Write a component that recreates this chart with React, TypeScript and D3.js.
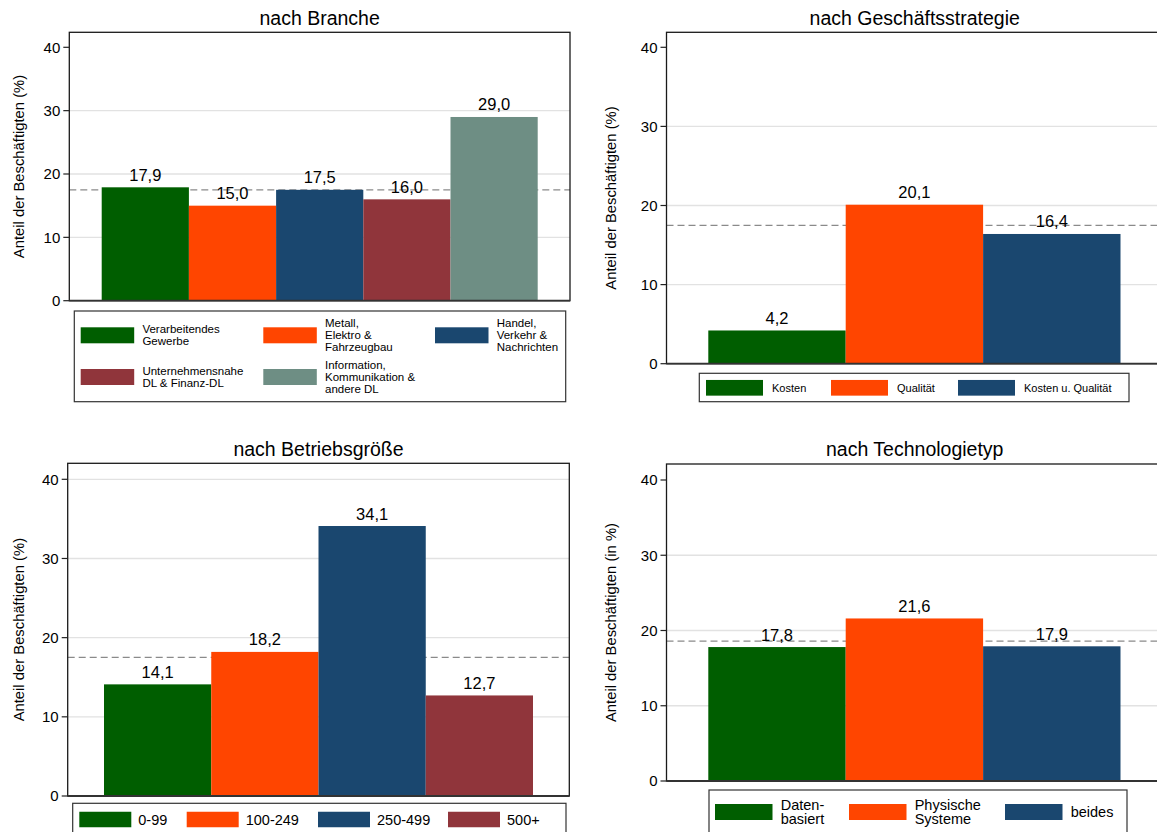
import React from "react";
import * as d3 from "d3";

// ---------- data ----------
const brancheCategories = [
  "Verarbeitendes\nGewerbe",
  "Metall,\nElektro &\nFahrzeugbau",
  "Handel,\nVerkehr &\nNachrichten",
  "Unternehmensnahe\nDL & Finanz-DL",
  "Information,\nKommunikation &\nandere DL",
];
const brancheValues = [17.9, 15.0, 17.5, 16.0, 29.0];

const strategieCategories = ["Kosten", "Qualität", "Kosten u. Qualität"];
const strategieValues = [4.2, 20.1, 16.4];

const groesseCategories = ["0-99", "100-249", "250-499", "500+"];
const groesseValues = [14.1, 18.2, 34.1, 12.7];

const techCategories = ["Daten-\nbasiert", "Physische\nSysteme", "beides"];
const techValues = [17.8, 21.6, 17.9];

const averages = [17.5, 17.5, 17.5, 18.6];
const yTicks = [0, 10, 20, 30, 40];
const titles = ["nach Branche", "nach Geschäftsstrategie", "nach Betriebsgröße", "nach Technologietyp"];
const yTitles = [
  "Anteil der Beschäftigten (%)",
  "Anteil der Beschäftigten (%)",
  "Anteil der Beschäftigten (%)",
  "Anteil der Beschäftigten (in %)",
];

const palette = ["#005e00", "#ff4500", "#1a476f", "#90353b", "#6e8e84"];
const FONT = "'Liberation Sans', Arial, Helvetica, sans-serif";

// ---------- layout ----------
type Layout = {
  x0: number; x1: number; top: number; y0px: number; y40px: number;
  bx0: number; bx1: number; yTitleX: number; grid: number[];
  legend: {
    box: [number, number, number, number];
    cols: number[]; rows: number[]; textOff: number;
    sw: number; sh: number; fs: number; lh: number;
  };
};

const layouts: Layout[] = [
  {
    x0: 69.3, x1: 570, top: 32.3, y0px: 300.7, y40px: 47.3, bx0: 101.7, bx1: 537.7, yTitleX: 24,
    grid: [10, 20, 30],
    legend: { box: [74.3, 311, 565.7, 401.7], cols: [80.7, 263.3, 435], rows: [335.3, 377], textOff: 61.7, sw: 53.5, sh: 16, fs: 11.5, lh: 12 },
  },
  {
    x0: 666.5, x1: 1163, top: 32.3, y0px: 363.7, y40px: 47.3, bx0: 708.3, bx1: 1120.5, yTitleX: 616,
    grid: [10, 20, 30],
    legend: { box: [699.3, 373.3, 1129, 401.7], cols: [706, 831, 958], rows: [387.8], textOff: 66, sw: 57, sh: 15.7, fs: 11, lh: 12 },
  },
  {
    x0: 67.7, x1: 569.3, top: 463.3, y0px: 796, y40px: 479.3, bx0: 104, bx1: 533, yTitleX: 24,
    grid: [10, 20, 30, 40],
    legend: { box: [72.7, 803.3, 566, 838], cols: [79.3, 186.7, 318, 448], rows: [819.5], textOff: 59, sw: 52, sh: 15.5, fs: 14.5, lh: 14 },
  },
  {
    x0: 666.5, x1: 1163, top: 464, y0px: 781, y40px: 480, bx0: 708.3, bx1: 1120.5, yTitleX: 616,
    grid: [10, 20, 30],
    legend: { box: [709, 790, 1127, 838], cols: [715, 849, 1005], rows: [812], textOff: 65.7, sw: 57.5, sh: 16, fs: 14.5, lh: 14 },
  },
];

const fmt = (v: number) => d3.format(".1f")(v).replace(".", ",");

function Panel({ idx, cats, vals }: { idx: number; cats: string[]; vals: number[] }) {
  const L = layouts[idx];
  const y = d3.scaleLinear().domain([0, 40]).range([L.y0px, L.y40px]);
  const x = d3.scaleBand<string>().domain(cats).range([L.bx0, L.bx1]).padding(0);
  const lg = L.legend;
  const nCols = lg.cols.length;
  return (
    <g>
      <text x={(L.x0 + L.x1) / 2} y={L.top - 7.8} textAnchor="middle" fontSize={19.5} fill="#000">
        {titles[idx]}
      </text>
      {/* gridlines */}
      {L.grid.map((t) => (
        <line key={t} x1={L.x0} x2={L.x1} y1={y(t)} y2={y(t)} stroke="#e2e2e2" strokeWidth={1.3} />
      ))}
      {/* average line */}
      <line x1={L.x0} x2={L.x1} y1={y(averages[idx])} y2={y(averages[idx])} stroke="#8a8a8a" strokeWidth={1.3} strokeDasharray="7 4" />
      {/* bars */}
      {cats.map((c, i) => (
        <rect key={c} x={x(c)!} y={y(vals[i])} width={x.bandwidth()} height={y(0) - y(vals[i])} fill={palette[i]} />
      ))}
      {/* value labels */}
      {cats.map((c, i) => (
        <text key={c} x={x(c)! + x.bandwidth() / 2} y={y(vals[i]) - 6.5} textAnchor="middle" fontSize={16.5} fill="#000">
          {fmt(vals[i])}
        </text>
      ))}
      {/* frame */}
      <rect x={L.x0} y={L.top} width={L.x1 - L.x0} height={L.y0px - L.top} fill="none" stroke="#1a1a1a" strokeWidth={1.3} />
      <line x1={L.x0} x2={L.x1} y1={y(0)} y2={y(0)} stroke="#333" strokeWidth={1.8} />
      {/* y ticks */}
      {yTicks.map((t) => (
        <g key={t}>
          <line x1={L.x0 - 6} x2={L.x0} y1={y(t)} y2={y(t)} stroke="#222" strokeWidth={1.2} />
          <text x={L.x0 - 9} y={y(t)} dy="0.36em" textAnchor="end" fontSize={15} fill="#000">
            {t}
          </text>
        </g>
      ))}
      {/* y title */}
      <text
        transform={`translate(${L.yTitleX},${(L.top + L.y0px) / 2}) rotate(-90)`}
        textAnchor="middle"
        fontSize={14.8}
        fill="#000"
      >
        {yTitles[idx]}
      </text>
      {/* legend */}
      <rect
        x={lg.box[0]}
        y={lg.box[1]}
        width={lg.box[2] - lg.box[0]}
        height={lg.box[3] - lg.box[1]}
        fill="#fff"
        stroke="#333"
        strokeWidth={1.2}
      />
      {cats.map((c, i) => {
        const sx = lg.cols[i % nCols];
        const cy = lg.rows[Math.floor(i / nCols)];
        const lines = c.split("\n");
        return (
          <g key={c}>
            <rect x={sx} y={cy - lg.sh / 2} width={lg.sw} height={lg.sh} fill={palette[i]} />
            {lines.map((ln, j) => (
              <text
                key={j}
                x={sx + lg.textOff}
                y={cy + (j - (lines.length - 1) / 2) * lg.lh + 0.36 * lg.fs}
                fontSize={lg.fs}
                fill="#000"
              >
                {ln}
              </text>
            ))}
          </g>
        );
      })}
    </g>
  );
}

export default function App() {
  return (
    <svg
      width={1157}
      height={832}
      style={{ position: "absolute", left: 0, top: 0, background: "#fff", fontFamily: FONT }}
    >
      <rect x={0} y={0} width={1157} height={832} fill="#fff" />
      <Panel idx={0} cats={brancheCategories} vals={brancheValues} />
      <Panel idx={1} cats={strategieCategories} vals={strategieValues} />
      <Panel idx={2} cats={groesseCategories} vals={groesseValues} />
      <Panel idx={3} cats={techCategories} vals={techValues} />
    </svg>
  );
}
